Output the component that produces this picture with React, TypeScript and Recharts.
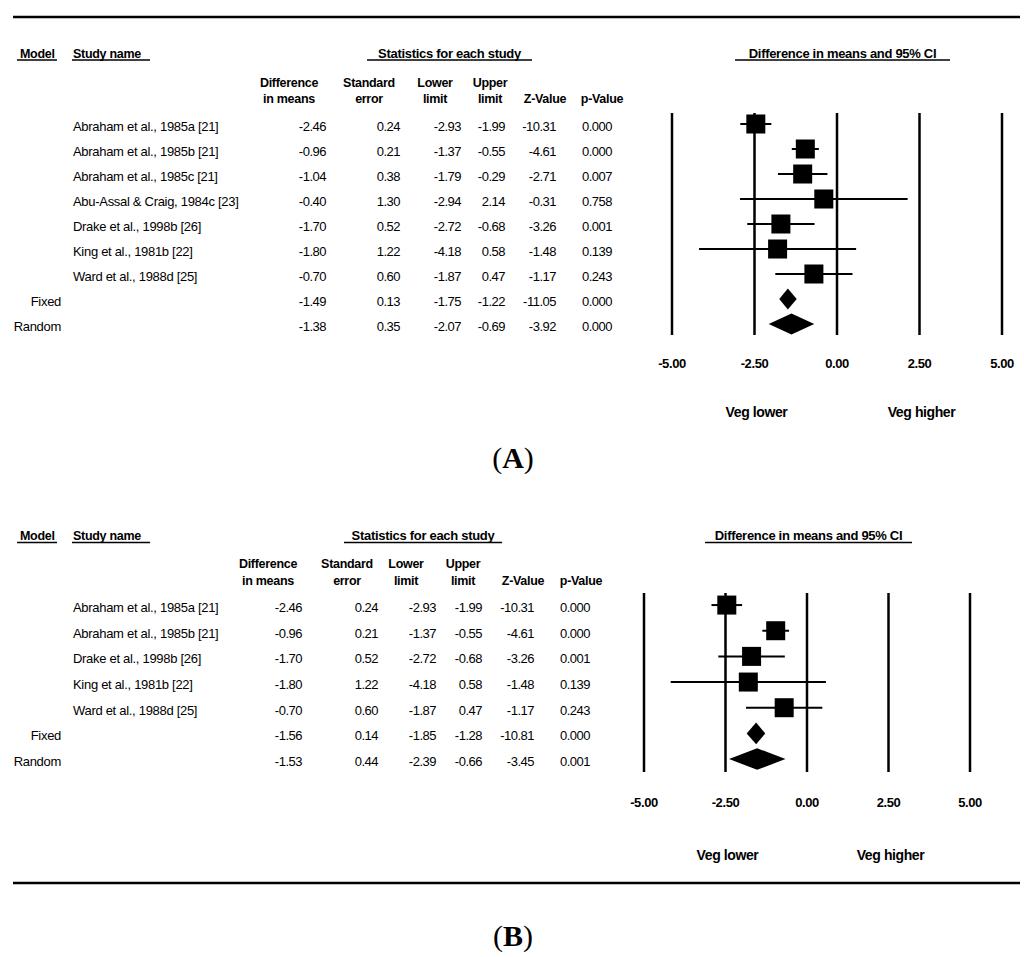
import React from 'react';
import { ComposedChart, Scatter, Area, XAxis, YAxis, ReferenceLine, ErrorBar } from 'recharts';

const SANS = '"Liberation Sans", Arial, Helvetica, sans-serif';
const SERIF = '"Liberation Serif", "Times New Roman", serif';

// ---- panel A ----
const studiesA = [
  'Abraham et al., 1985a [21]',
  'Abraham et al., 1985b [21]',
  'Abraham et al., 1985c [21]',
  'Abu-Assal & Craig, 1984c [23]',
  'Drake et al., 1998b [26]',
  'King et al., 1981b [22]',
  'Ward et al., 1988d [25]',
];
const diffA = [-2.46, -0.96, -1.04, -0.4, -1.7, -1.8, -0.7];
const seA = [0.24, 0.21, 0.38, 1.3, 0.52, 1.22, 0.6];
const lowerA = [-2.93, -1.37, -1.79, -2.94, -2.72, -4.18, -1.87];
const upperA = [-1.99, -0.55, -0.29, 2.14, -0.68, 0.58, 0.47];
const zA = [-10.31, -4.61, -2.71, -0.31, -3.26, -1.48, -1.17];
const pA = ['0.000', '0.000', '0.007', '0.758', '0.001', '0.139', '0.243'];

const modelsA = ['Fixed', 'Random'];
const sumDiffA = [-1.49, -1.38];
const sumSeA = [0.13, 0.35];
const sumLowerA = [-1.75, -2.07];
const sumUpperA = [-1.22, -0.69];
const sumZA = [-11.05, -3.92];
const sumPA = ['0.000', '0.000'];

// ---- panel B ----
const studiesB = [
  'Abraham et al., 1985a [21]',
  'Abraham et al., 1985b [21]',
  'Drake et al., 1998b [26]',
  'King et al., 1981b [22]',
  'Ward et al., 1988d [25]',
];
const diffB = [-2.46, -0.96, -1.7, -1.8, -0.7];
const seB = [0.24, 0.21, 0.52, 1.22, 0.6];
const lowerB = [-2.93, -1.37, -2.72, -4.18, -1.87];
const upperB = [-1.99, -0.55, -0.68, 0.58, 0.47];
const zB = [-10.31, -4.61, -3.26, -1.48, -1.17];
const pB = ['0.000', '0.000', '0.001', '0.139', '0.243'];

const modelsB = ['Fixed', 'Random'];
const sumDiffB = [-1.56, -1.53];
const sumSeB = [0.14, 0.44];
const sumLowerB = [-1.85, -2.39];
const sumUpperB = [-1.28, -0.66];
const sumZB = [-10.81, -3.45];
const sumPB = ['0.000', '0.001'];

const xTicks = [-5, -2.5, 0, 2.5, 5];
const sideLabels: Record<string, string> = { '-2.5': 'Veg lower', '2.5': 'Veg higher' };
const colHeads = [
  ['Difference', 'in means'],
  ['Standard', 'error'],
  ['Lower', 'limit'],
  ['Upper', 'limit'],
  ['', 'Z-Value'],
  ['', 'p-Value'],
];

type Layout = {
  top: number;
  height: number;
  plotTop: number;
  plotBottom: number;
  plotLeft: number;
  plotRight: number;
  yDomain: [number, number];
  textDy: number;
  tickDy: number;
  sideDy: number;
  cols: number[];
  headCols: number[];
  headY: number;
  colHeadY: [number, number];
  statsX: [number, number];
  ciX: [number, number];
};

const layA: Layout = {
  top: 0,
  height: 450,
  plotTop: 113,
  plotBottom: 335,
  plotLeft: 672,
  plotRight: 1002,
  yDomain: [-0.44, 8.44],
  textDy: 6.5,
  tickDy: 33,
  sideDy: 82,
  cols: [326, 400, 461, 505, 556, 612],
  headCols: [289, 369, 435, 490, 545, 602],
  headY: 57.5,
  colHeadY: [87, 103],
  statsX: [367, 532],
  ciX: [735, 950],
};

const layB: Layout = {
  top: 500,
  height: 400,
  plotTop: 93,
  plotBottom: 272,
  plotLeft: 644,
  plotRight: 970,
  yDomain: [-0.47, 6.505],
  textDy: 7,
  tickDy: 35,
  sideDy: 88,
  cols: [302, 378, 436, 482, 534, 590],
  headCols: [268, 347, 406, 463, 523, 581],
  headY: 540,
  colHeadY: [568, 585],
  statsX: [344, 502],
  ciX: [705, 912],
};

const DIAMOND_H = 0.42;

type PanelProps = {
  lay: Layout;
  studies: string[];
  diff: number[];
  se: number[];
  lower: number[];
  upper: number[];
  z: number[];
  p: string[];
  models: string[];
  sDiff: number[];
  sSe: number[];
  sLower: number[];
  sUpper: number[];
  sZ: number[];
  sP: string[];
};

const Square = (props: any) => {
  const { cx, cy } = props;
  if (cx == null || cy == null) return null;
  return <rect x={cx - 9.5} y={cy - 9.5} width={19} height={19} fill="#000" />;
};

function Forest(props: PanelProps) {
  const { lay, studies, diff, se, lower, upper, z, p, models, sDiff, sSe, sLower, sUpper, sZ, sP } = props;
  const nS = studies.length;

  const rows = [
    ...studies.map((name, i) => ({
      name,
      summary: false,
      vals: [diff[i].toFixed(2), se[i].toFixed(2), lower[i].toFixed(2), upper[i].toFixed(2), z[i].toFixed(2), p[i]],
    })),
    ...models.map((name, j) => ({
      name,
      summary: true,
      vals: [sDiff[j].toFixed(2), sSe[j].toFixed(2), sLower[j].toFixed(2), sUpper[j].toFixed(2), sZ[j].toFixed(2), sP[j]],
    })),
  ];
  const rowIdx = rows.map((_, i) => i);

  const squares = diff.map((d, i) => ({ x: d, y: i, err: [d - lower[i], upper[i] - d] }));
  const diamonds = sDiff.map((d, j) => {
    const y = nS + j;
    return [
      { x: sLower[j], band: [y, y] },
      { x: d, band: [y - DIAMOND_H, y + DIAMOND_H] },
      { x: sUpper[j], band: [y, y] },
    ];
  });

  const renderRow = (tp: any) => {
    const row = rows[tp.payload?.value];
    if (!row) return null;
    const by = tp.y + lay.textDy;
    return (
      <g fontFamily={SANS} fontSize={13} fill="#000" letterSpacing={-0.3}>
        {row.summary ? (
          <text x={61} y={by} textAnchor="end">{row.name}</text>
        ) : (
          <text x={73} y={by}>{row.name}</text>
        )}
        {row.vals.map((v, k) => (
          <text key={k} x={lay.cols[k]} y={by} textAnchor="end" letterSpacing={-0.5}>{v}</text>
        ))}
      </g>
    );
  };

  const renderX = (tp: any) => {
    const v = tp.payload?.value;
    const side = sideLabels[String(v)];
    return (
      <g fontFamily={SANS} fontWeight="bold" fill="#000" letterSpacing={-0.4}>
        <text x={tp.x} y={tp.y + lay.tickDy} textAnchor="middle" fontSize={13}>{Number(v).toFixed(2)}</text>
        {side && (
          <text x={tp.x + 2} y={tp.y + lay.sideDy} textAnchor="middle" fontSize={14}>{side}</text>
        )}
      </g>
    );
  };

  return (
    <div style={{ position: 'absolute', left: 0, top: lay.top }}>
      <ComposedChart
        width={1024}
        height={lay.height}
        margin={{ top: lay.plotTop, right: 1024 - lay.plotRight, bottom: 0, left: 0 }}
      >
        <XAxis
          type="number"
          dataKey="x"
          domain={[-5, 5]}
          ticks={xTicks}
          interval={0}
          allowDataOverflow
          axisLine={false}
          tickLine={false}
          tickSize={0}
          tickMargin={0}
          height={lay.height - lay.plotBottom}
          tick={renderX}
        />
        <YAxis
          type="number"
          dataKey="y"
          domain={lay.yDomain}
          reversed
          allowDataOverflow
          ticks={rowIdx}
          interval={0}
          width={lay.plotLeft}
          axisLine={false}
          tickLine={false}
          tick={renderRow}
        />
        {xTicks.map((t) => (
          <ReferenceLine key={t} x={t} stroke="#000" strokeWidth={2.5} />
        ))}
        {diamonds.map((d, j) => (
          <Area
            key={j}
            data={d}
            dataKey="band"
            type="linear"
            stroke="none"
            fill="#000"
            fillOpacity={1}
            dot={false}
            activeDot={false}
            isAnimationActive={false}
          />
        ))}
        <Scatter data={squares} shape={Square} isAnimationActive={false}>
          <ErrorBar dataKey="err" direction="x" width={0} stroke="#000" strokeWidth={2} />
        </Scatter>
      </ComposedChart>
    </div>
  );
}

function Headers({ lay }: { lay: Layout }) {
  const hy = lay.headY;
  const uy = hy + 2.5;
  return (
    <g fontFamily={SANS} fontWeight="bold" fill="#000" letterSpacing={-0.3}>
      <text x={20} y={hy} fontSize={12.5}>Model</text>
      <line x1={17} x2={57} y1={uy} y2={uy} stroke="#000" strokeWidth={1.4} />
      <text x={73} y={hy} fontSize={12.5}>Study name</text>
      <line x1={72} x2={150} y1={uy} y2={uy} stroke="#000" strokeWidth={1.4} />
      <text x={(lay.statsX[0] + lay.statsX[1]) / 2} y={hy} fontSize={13} textAnchor="middle">
        Statistics for each study
      </text>
      <line x1={lay.statsX[0]} x2={lay.statsX[1]} y1={uy} y2={uy} stroke="#000" strokeWidth={1.4} />
      <text x={(lay.ciX[0] + lay.ciX[1]) / 2} y={hy} fontSize={13} textAnchor="middle">
        Difference in means and 95%  CI
      </text>
      <line x1={lay.ciX[0]} x2={lay.ciX[1]} y1={uy} y2={uy} stroke="#000" strokeWidth={1.4} />
      {colHeads.map((h, k) => (
        <g key={k} fontSize={12.5}>
          {h[0] && (
            <text x={lay.headCols[k]} y={lay.colHeadY[0]} textAnchor="middle">{h[0]}</text>
          )}
          <text x={lay.headCols[k]} y={lay.colHeadY[1]} textAnchor="middle">{h[1]}</text>
        </g>
      ))}
    </g>
  );
}

export default function App() {
  return (
    <div style={{ position: 'absolute', left: 0, top: 0, width: 1024, height: 957, background: '#fff' }}>
      <Forest
        lay={layA}
        studies={studiesA}
        diff={diffA}
        se={seA}
        lower={lowerA}
        upper={upperA}
        z={zA}
        p={pA}
        models={modelsA}
        sDiff={sumDiffA}
        sSe={sumSeA}
        sLower={sumLowerA}
        sUpper={sumUpperA}
        sZ={sumZA}
        sP={sumPA}
      />
      <Forest
        lay={layB}
        studies={studiesB}
        diff={diffB}
        se={seB}
        lower={lowerB}
        upper={upperB}
        z={zB}
        p={pB}
        models={modelsB}
        sDiff={sumDiffB}
        sSe={sumSeB}
        sLower={sumLowerB}
        sUpper={sumUpperB}
        sZ={sumZB}
        sP={sumPB}
      />
      <svg
        width={1024}
        height={957}
        style={{ position: 'absolute', left: 0, top: 0, pointerEvents: 'none' }}
      >
        <line x1={13} x2={1020} y1={17} y2={17} stroke="#000" strokeWidth={2.6} />
        <Headers lay={layA} />
        <Headers lay={layB} />
        <line x1={13} x2={1020} y1={883} y2={883} stroke="#000" strokeWidth={2.6} />
        <text x={513} y={468} fontFamily={SERIF} fontSize={30} textAnchor="middle" fill="#000">
          (<tspan fontWeight="bold">A</tspan>)
        </text>
        <text x={513} y={946} fontFamily={SERIF} fontSize={30} textAnchor="middle" fill="#000">
          (<tspan fontWeight="bold">B</tspan>)
        </text>
      </svg>
    </div>
  );
}
